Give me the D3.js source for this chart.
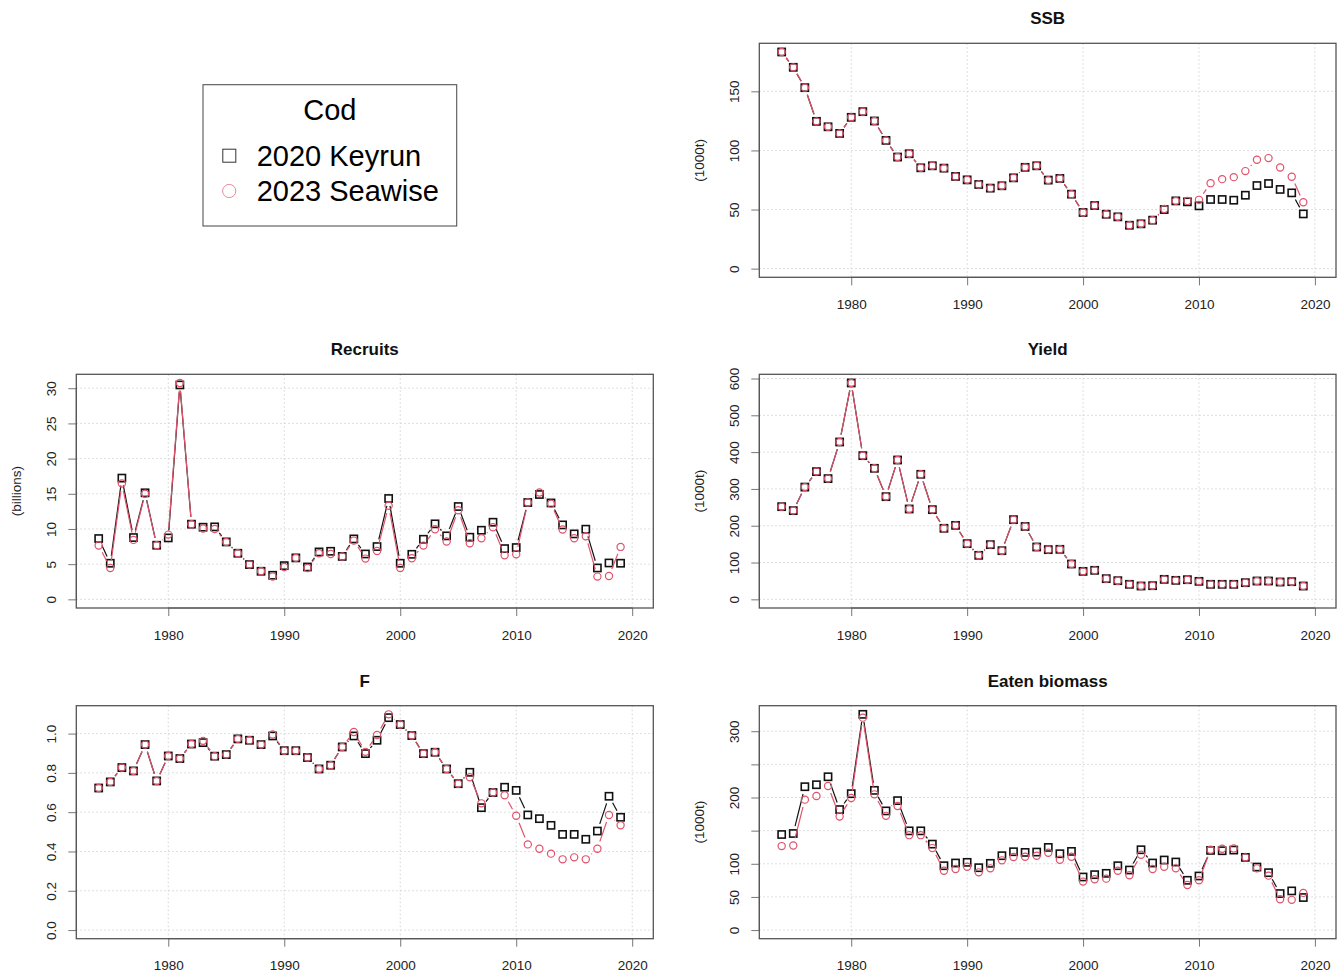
<!DOCTYPE html>
<html>
<head>
<meta charset="utf-8">
<script src="https://cdn.jsdelivr.net/npm/d3@7"></script>
<style>
  html, body { margin: 0; padding: 0; background: #fff; }
  svg { display: block; font-family: "Liberation Sans", Arial, sans-serif; }
</style>
</head>
<body>
<svg id="chart" width="1344" height="980"></svg>
<script>
// ---------------- DATA ----------------
const years = [1974,1975,1976,1977,1978,1979,1980,1981,1982,1983,1984,1985,1986,1987,1988,1989,
  1990,1991,1992,1993,1994,1995,1996,1997,1998,1999,2000,2001,2002,2003,2004,2005,2006,2007,2008,2009,
  2010,2011,2012,2013,2014,2015,2016,2017,2018,2019];

const seriesNames = ["2020 Keyrun", "2023 Seawise"];
const legendTitle = "Cod";

const ssbKeyrun  = [183.3,170.3,153.1,124.6,120.0,114.4,128.0,132.8,124.9,108.5,94.4,97.2,85.3,87.0,85.0,78.0,
  75.1,71.2,68.1,70.1,76.8,85.7,87.0,74.9,76.3,63.0,47.5,53.4,46.0,43.8,36.7,37.9,41.0,50.0,57.3,56.5,
  53.1,58.5,58.5,57.9,62.1,70.3,72.0,67.0,64.1,46.3];
const ssbSeawise = [183.3,170.3,153.1,124.6,120.0,114.4,128.0,132.8,124.9,108.5,94.4,97.2,85.3,87.0,85.0,78.0,
  75.1,71.2,68.1,70.1,76.8,85.7,87.0,74.9,76.3,63.0,47.5,53.4,46.0,43.8,36.7,37.9,41.0,50.5,57.3,57.3,
  58.2,72.3,75.7,77.4,82.5,92.1,93.5,85.6,77.7,56.2];

const recKeyrun  = [8.64,5.13,17.23,8.78,15.14,7.69,8.73,30.47,10.68,10.25,10.30,8.16,6.55,4.94,3.99,3.42,
  4.79,5.89,4.60,6.74,6.83,6.10,8.59,6.45,7.50,14.33,5.13,6.40,8.54,10.73,9.02,13.19,8.83,9.82,10.96,7.21,
  7.36,13.76,14.90,13.70,10.58,9.30,9.97,4.46,5.17,5.13];
const recSeawise = [7.64,4.46,16.47,8.45,15.00,7.69,9.20,30.75,10.68,10.06,10.00,8.16,6.55,4.94,3.99,3.23,
  4.60,5.89,4.46,6.55,6.45,6.10,8.35,5.79,6.88,13.29,4.46,5.84,7.64,9.97,8.21,12.67,7.97,8.69,10.25,6.26,
  6.41,13.76,15.19,13.60,9.92,8.69,8.97,3.23,3.32,7.45];

const yieldKeyrun  = [251.8,241.0,305.0,347.0,328.0,427.5,587.9,390.4,356.0,279.0,378.6,245.5,339.7,243.7,193.0,201.0,
  151.3,119.6,148.6,132.2,216.5,198.0,142.2,135.0,135.9,96.0,76.0,78.8,56.2,50.7,40.8,36.2,37.1,54.3,51.6,53.4,
  48.9,40.8,40.8,40.8,45.3,49.8,49.8,47.1,48.0,36.2];
const yieldSeawise = [251.8,241.0,305.0,347.0,328.0,427.5,587.9,390.4,356.0,279.0,378.6,245.5,339.7,243.7,193.0,201.0,
  151.3,119.6,148.6,132.2,216.5,198.0,142.2,135.0,135.9,96.0,76.0,78.8,56.2,50.7,40.8,36.2,37.1,54.3,51.6,53.4,
  48.9,40.8,40.8,40.8,45.3,49.8,49.8,47.1,48.0,36.2];

const fKeyrun  = [0.723,0.754,0.827,0.810,0.944,0.759,0.886,0.873,0.947,0.954,0.885,0.893,0.973,0.966,0.944,0.988,
  0.913,0.913,0.878,0.820,0.839,0.932,0.988,0.898,0.966,1.081,1.046,0.990,0.898,0.905,0.820,0.745,0.803,0.623,0.700,0.727,
  0.711,0.586,0.567,0.533,0.487,0.487,0.462,0.504,0.681,0.574];
const fSeawise = [0.723,0.754,0.827,0.810,0.944,0.759,0.886,0.873,0.947,0.963,0.885,0.893,0.973,0.966,0.944,0.995,
  0.913,0.913,0.878,0.820,0.839,0.932,1.008,0.907,0.993,1.098,1.046,0.990,0.898,0.905,0.820,0.745,0.778,0.645,0.700,0.686,
  0.582,0.436,0.414,0.389,0.360,0.370,0.360,0.414,0.586,0.533];

const eatenKeyrun  = [144.2,145.7,216.3,219.3,231.3,181.8,205.8,325.5,210.8,179.8,195.3,149.7,149.7,129.7,97.1,101.2,
  102.2,94.1,100.7,112.2,118.2,117.2,117.7,124.7,115.2,118.7,80.1,83.6,85.6,97.1,90.6,121.2,101.2,105.7,102.7,75.1,
  81.6,120.2,119.7,120.7,109.7,95.1,86.6,55.1,59.1,49.1];
const eatenSeawise = [126.7,127.7,196.8,202.3,217.3,171.3,199.3,320.5,204.8,172.3,187.3,143.2,143.2,123.7,89.6,92.1,
  95.6,87.1,93.1,105.2,110.2,110.7,112.2,116.7,106.2,110.7,73.1,76.6,77.6,89.6,82.6,113.7,92.1,95.6,93.1,68.1,
  75.1,121.2,122.7,123.2,109.7,93.1,82.1,46.6,45.6,56.1];

const xTicks = [1980,1990,2000,2010,2020];
const ssbTicks = [0,50,100,150];
const recTicks = [0,5,10,15,20,25,30];
const yieldTicks = [0,100,200,300,400,500,600];
const fTicks = [0,0.2,0.4,0.6,0.8,1.0];
const eatenTicks = [0,50,100,150,200,250,300];
const eatenTickLabels = [0,50,100,200,300];

// ---------------- LAYOUT ----------------
const svg = d3.select("#chart");
const RED = "#DF536B";
const colL = [76.3, 653.3], colR = [759.3, 1336];
const rows = [[43.3, 277.3], [374.3, 608], [705.7, 938.7]];
const xDomain = [1972.07, 2021.82];
const GAP = 7.5;

const panels = [
  {title:"SSB", ylab:"(1000t)", col:colR, row:rows[0], a:ssbKeyrun, b:ssbSeawise, ticks:ssbTicks, labels:ssbTicks, fmt:d3.format("d")},
  {title:"Recruits", ylab:"(billions)", col:colL, row:rows[1], a:recKeyrun, b:recSeawise, ticks:recTicks, labels:recTicks, fmt:d3.format("d")},
  {title:"Yield", ylab:"(1000t)", col:colR, row:rows[1], a:yieldKeyrun, b:yieldSeawise, ticks:yieldTicks, labels:yieldTicks, fmt:d3.format("d")},
  {title:"F", ylab:"", col:colL, row:rows[2], a:fKeyrun, b:fSeawise, ticks:fTicks, labels:fTicks, fmt:d3.format(".1f")},
  {title:"Eaten biomass", ylab:"(1000t)", col:colR, row:rows[2], a:eatenKeyrun, b:eatenSeawise, ticks:eatenTicks, labels:eatenTickLabels, fmt:d3.format("d")}
];

panels.forEach(p => {
  const [x0, x1] = p.col, [y0, y1] = p.row;
  const x = d3.scaleLinear().domain(xDomain).range([x0, x1]);
  const mx = d3.max(p.a.concat(p.b));
  const y = d3.scaleLinear().domain([-0.04*mx, 1.04*mx]).range([y1, y0]);
  const g = svg.append("g");

  // grid
  g.selectAll(".gx").data(xTicks).join("line")
    .attr("x1", d => x(d)).attr("x2", d => x(d)).attr("y1", y0).attr("y2", y1)
    .attr("stroke", "#d3d3d3").attr("stroke-width", 1).attr("stroke-dasharray", "1.5,2.5");
  g.selectAll(".gy").data(p.ticks).join("line")
    .attr("x1", x0).attr("x2", x1).attr("y1", d => y(d)).attr("y2", d => y(d))
    .attr("stroke", "#d3d3d3").attr("stroke-width", 1).attr("stroke-dasharray", "1.5,2.5");

  // axes via d3
  const xAxis = d3.axisBottom(x).tickValues(xTicks).tickFormat(d3.format("d")).tickSize(8).tickPadding(14);
  const gx = g.append("g").attr("transform", `translate(0,${y1})`).call(xAxis);
  gx.select(".domain").attr("d", `M${x(xTicks[0])},0H${x(xTicks[xTicks.length-1])}`).attr("stroke", "#666");
  gx.selectAll(".tick line").attr("stroke", "#777");
  gx.selectAll(".tick text").attr("font-size", 13.5).attr("fill", "#222")
    .attr("font-family", "Liberation Sans, Arial, sans-serif");

  const yAxis = d3.axisLeft(y).tickValues(p.ticks).tickSize(8).tickFormat(d => p.labels.includes(d) ? p.fmt(d) : "");
  const gy = g.append("g").attr("transform", `translate(${x0},0)`).call(yAxis);
  gy.select(".domain").attr("d", `M0,${y(p.ticks[0])}V${y(p.ticks[p.ticks.length-1])}`).attr("stroke", "#666");
  gy.selectAll(".tick line").attr("stroke", "#777");
  gy.selectAll(".tick text").attr("font-size", 13.5).attr("fill", "#222")
    .attr("font-family", "Liberation Sans, Arial, sans-serif")
    .attr("x", null).attr("dy", null)
    .attr("text-anchor", "middle")
    .attr("transform", "translate(-20,0) rotate(-90)");

  // box
  g.append("rect").attr("x", x0).attr("y", y0).attr("width", x1 - x0).attr("height", y1 - y0)
    .attr("fill", "none").attr("stroke", "#555").attr("stroke-width", 1.3);

  // title
  g.append("text").attr("x", (x0 + x1) / 2).attr("y", y0 - 19)
    .attr("text-anchor", "middle").attr("font-size", 17).attr("font-weight", "bold").attr("fill", "#111")
    .text(p.title);

  // y label
  if (p.ylab) {
    g.append("text").attr("transform", `translate(${x0 - 55},${(y0 + y1) / 2}) rotate(-90)`)
      .attr("text-anchor", "middle").attr("font-size", 13.5).attr("fill", "#222").text(p.ylab);
  }

  // series: R type="b" style segments with gaps
  const drawSeries = (vals, color, shape) => {
    const pts = years.map((yr, i) => [x(yr), y(vals[i])]);
    const segs = [];
    for (let i = 0; i < pts.length - 1; i++) {
      const [ax, ay] = pts[i], [bx, by] = pts[i + 1];
      const dx = bx - ax, dy = by - ay, d = Math.hypot(dx, dy);
      if (d > 2 * GAP) {
        const ux = dx / d, uy = dy / d;
        segs.push([ax + ux * GAP, ay + uy * GAP, bx - ux * GAP, by - uy * GAP]);
      }
    }
    g.append("g").selectAll("line").data(segs).join("line")
      .attr("x1", s => s[0]).attr("y1", s => s[1]).attr("x2", s => s[2]).attr("y2", s => s[3])
      .attr("stroke", color).attr("stroke-width", 1.2);
    if (shape === "square") {
      g.append("g").selectAll("rect").data(pts).join("rect")
        .attr("x", d => d[0] - 3.6).attr("y", d => d[1] - 3.6).attr("width", 7.2).attr("height", 7.2)
        .attr("fill", "none").attr("stroke", color).attr("stroke-width", 1.6);
    } else {
      g.append("g").selectAll("circle").data(pts).join("circle")
        .attr("cx", d => d[0]).attr("cy", d => d[1]).attr("r", 3.6)
        .attr("fill", "none").attr("stroke", color).attr("stroke-width", 1.2);
    }
  };
  drawSeries(p.a, "#111", "square");
  drawSeries(p.b, RED, "circle");
});

// ---------------- LEGEND ----------------
const lg = svg.append("g");
lg.append("rect").attr("x", 203).attr("y", 84.7).attr("width", 253.7).attr("height", 141.3)
  .attr("fill", "#fff").attr("stroke", "#555").attr("stroke-width", 1.1);
lg.append("text").attr("x", 329.9).attr("y", 120).attr("text-anchor", "middle")
  .attr("font-size", 29).attr("fill", "#000").text(legendTitle);
lg.append("rect").attr("x", 222.8).attr("y", 149.2).attr("width", 13).attr("height", 13)
  .attr("fill", "none").attr("stroke", "#333").attr("stroke-width", 1);
lg.append("circle").attr("cx", 229.2).attr("cy", 191).attr("r", 6.6)
  .attr("fill", "none").attr("stroke", "#E8899A").attr("stroke-width", 1);
lg.selectAll(".lt").data(seriesNames).join("text")
  .attr("x", 256.7).attr("y", (d, i) => [166, 200.7][i])
  .attr("font-size", 29).attr("fill", "#000").text(d => d);
</script>
</body>
</html>
